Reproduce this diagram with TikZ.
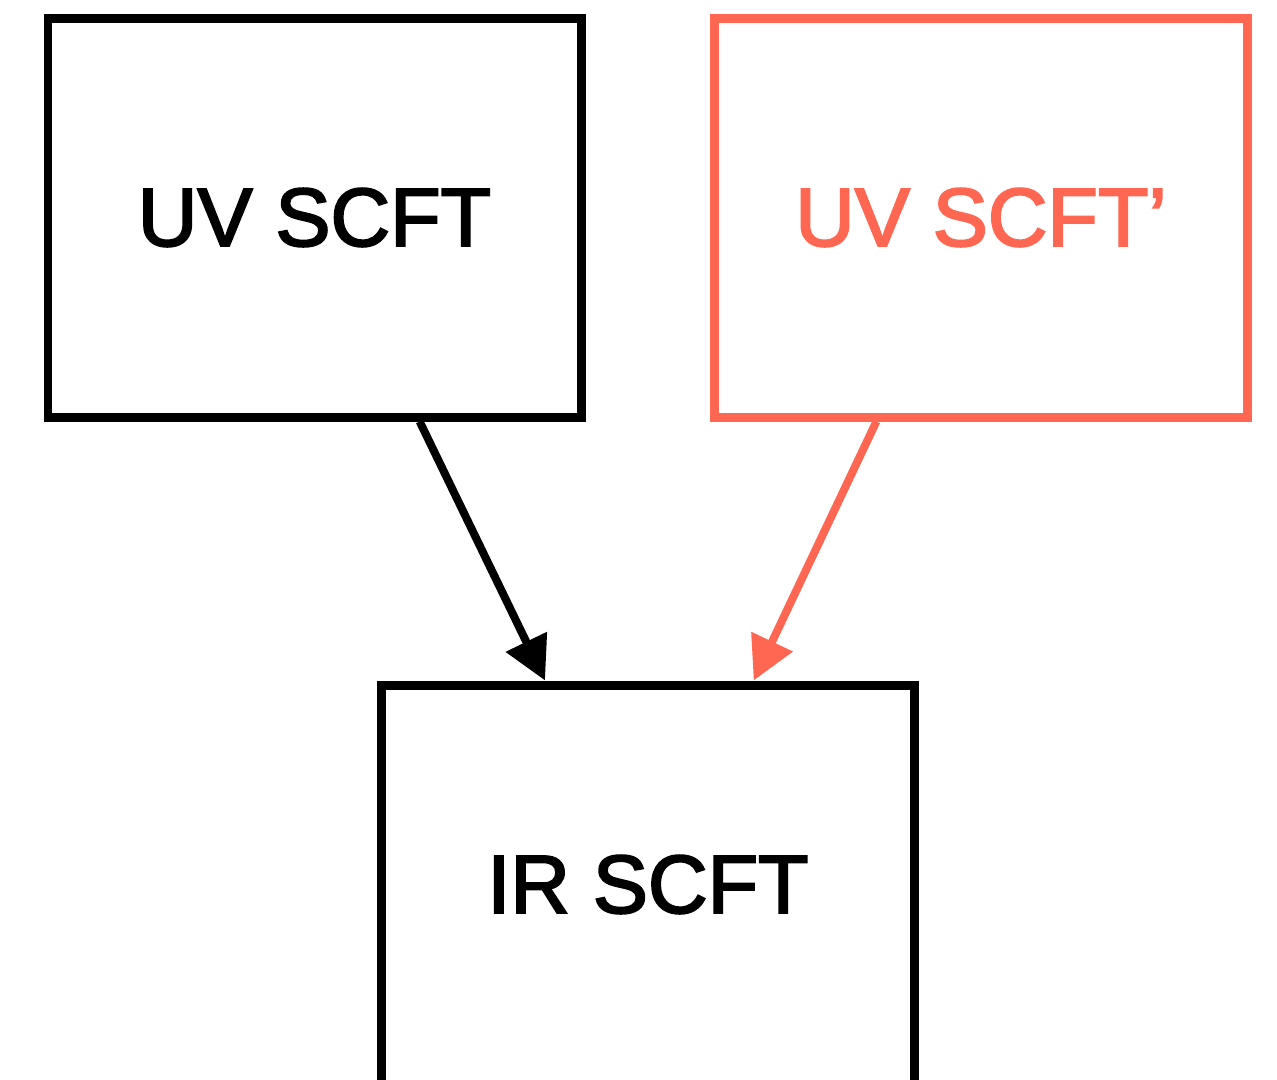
\documentclass[tikz,border=0pt]{standalone}
\usepackage{fontspec}
\setmainfont{Liberation Sans}
% a medium weight for the box labels: regular outlines, slightly emboldened
\newfontfamily\labelfont[FakeBold=2.5]{Liberation Sans}
\usetikzlibrary{arrows.meta,calc}
\definecolor{coral}{RGB}{255,103,82}
\begin{document}
\begin{tikzpicture}[
  theory/.style={draw, line width=0.18cm, minimum width=10.66cm, minimum height=7.98cm,
    inner sep=0pt, font=\labelfont\fontsize{47}{56}\selectfont},
  flow/.style={line width=0.16cm, -{Triangle[length=0.86cm, width=0.88cm]}}
]
\useasboundingbox (0,0) rectangle (25.54,-21.58);
\clip (0,0) rectangle (25.54,-21.58);

\node[theory] (uv) at (6.29,-4.35) {UV SCFT};
\node[theory, draw=coral, text=coral] (uvp) at (19.62,-4.35) {UV SCFT’};
\node[theory] (ir) at (12.96,-17.69) {IR SCFT};

\draw[flow] ($(uv.south west)!0.694!(uv.south east)$) -- ($(ir.north west)!0.31!(ir.north east)$);
\draw[flow, draw=coral, fill=coral] ($(uvp.south west)!0.307!(uvp.south east)$) -- ($(ir.north west)!0.695!(ir.north east)$);
\end{tikzpicture}
\end{document}
